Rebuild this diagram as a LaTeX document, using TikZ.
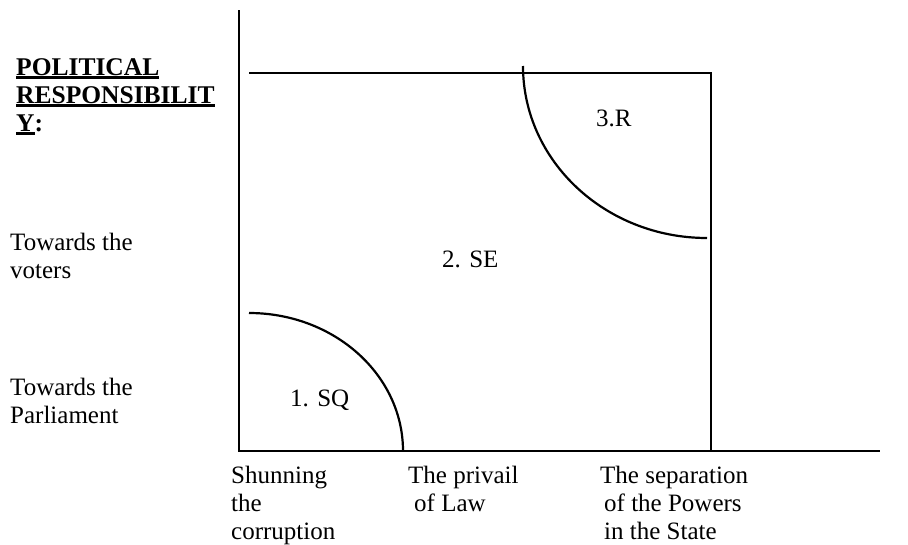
\documentclass[tikz,border=0pt]{standalone}
\usepackage{fontspec}
\setmainfont{Liberation Serif}
\newcommand\ulbold[1]{\setbox0\hbox{#1}\rlap{\rule[-3.5pt]{\wd0}{2.2pt}}\box0}
\begin{document}
\begin{tikzpicture}[x=1pt,y=-1pt,
  lbl/.style={anchor=base west,inner sep=0pt,font=\fontsize{25}{28}\selectfont},
  ttl/.style={lbl,font=\fontsize{25.5}{28}\selectfont\bfseries},
  ln/.style={line width=2.2pt},
  arcln/.style={line width=2.2pt}]
\useasboundingbox (0,0) rectangle (908,544);
% axes and frame
\coordinate (o) at (239,451);
\coordinate (ytop) at (239,10);
\coordinate (xend) at (880,451);
\coordinate (tl) at (249,73);
\coordinate (tr) at (711,73);
\coordinate (br) at (711,451);
\draw[ln] (ytop) -- (o) -- (xend);
\draw[ln] (tl) -- (tr) -- (br);
% arcs
\coordinate (a1s) at (249,313);
\coordinate (a3s) at (523,66);
\draw[arcln] (a1s) arc[start angle=-90,end angle=0,x radius=154,y radius=138];
\draw[arcln] (a3s) arc[start angle=180,end angle=90,x radius=184,y radius=172];
% title
\node[ttl] (t1) at (16,75) {\ulbold{POLITICAL}};
\node[ttl] (t2) at (16,103) {\ulbold{RESPONSIBILIT}};
\node[ttl] (t3) at (16,131) {\ulbold{Y}:};
% left labels
\node[lbl] (v1) at (10,250) {Towards the};
\node[lbl] (v2) at (10,278) {voters};
\node[lbl] (p1) at (10,395) {Towards the};
\node[lbl] (p2) at (10,423) {Parliament};
% region labels
\node[lbl] (sq) at (290,406) {1. SQ};
\node[lbl] (se) at (442,267) {2. SE};
\node[lbl] (r) at (596,126) {3.R};
% bottom labels
\node[lbl] (b11) at (231,483) {Shunning};
\node[lbl] (b12) at (231,511) {the};
\node[lbl] (b13) at (231,539) {corruption};
\node[lbl] (b21) at (408,483) {The privail};
\node[lbl] (b22) at (414,511) {of Law};
\node[lbl] (b31) at (600,483) {The separation};
\node[lbl] (b32) at (604,511) {of the Powers};
\node[lbl] (b33) at (604,539) {in the State};
\end{tikzpicture}
\end{document}
